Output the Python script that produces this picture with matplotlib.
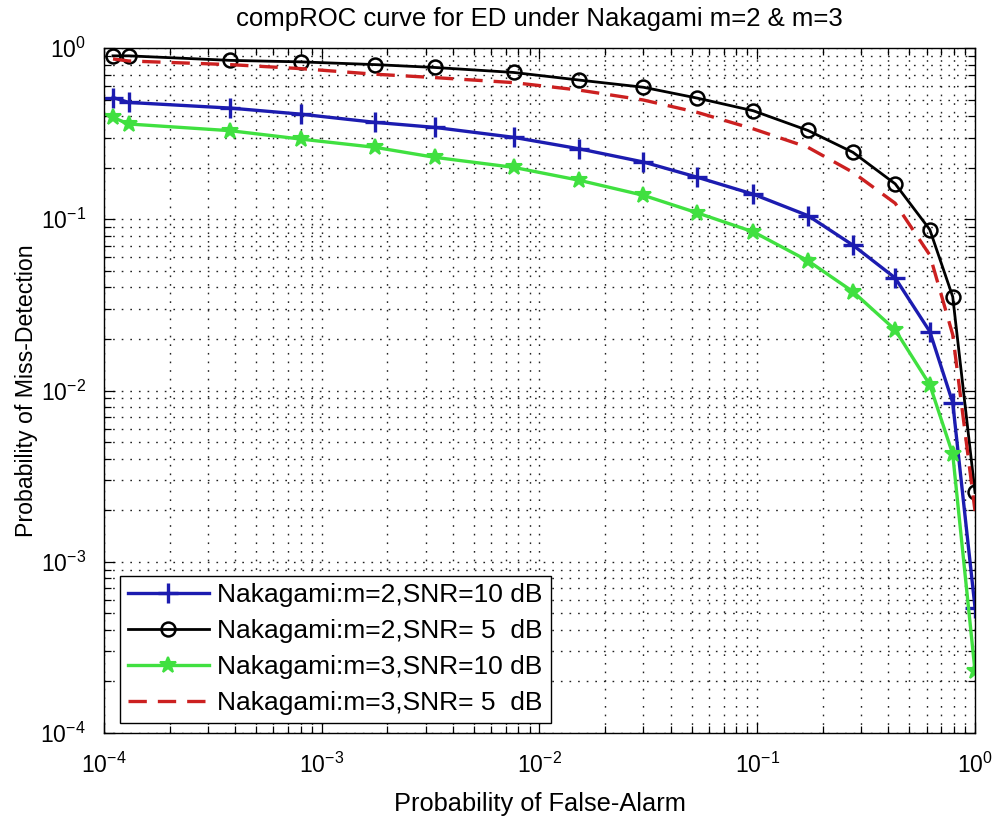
import matplotlib
matplotlib.use("Agg")
import matplotlib.pyplot as plt
from matplotlib.ticker import LogLocator, LogFormatterMathtext, NullFormatter

plt.rcParams['font.family'] = ['Liberation Sans', 'DejaVu Sans']
plt.rcParams['mathtext.fontset'] = 'custom'
plt.rcParams['mathtext.rm'] = 'Liberation Sans'
plt.rcParams['mathtext.default'] = 'regular'

# Probability of false alarm (shared by all curves)
pfa = [1.10e-4, 1.30e-4, 3.8e-4, 8.0e-4, 1.76e-3, 3.3e-3, 7.6e-3, 0.0152,
       0.030, 0.053, 0.096, 0.171, 0.275, 0.43, 0.62, 0.79, 1.0]

# Probability of miss detection for each case
pm_m2_10 = [0.514, 0.481, 0.446, 0.411, 0.368, 0.344, 0.301, 0.258, 0.216,
            0.176, 0.140, 0.105, 0.0706, 0.0454, 0.0221, 0.0085, 5.4e-4]
pm_m2_5 = [0.90, 0.90, 0.847, 0.83, 0.80, 0.77, 0.72, 0.65, 0.59, 0.51,
           0.43, 0.33, 0.246, 0.161, 0.087, 0.0353, 0.00254]
pm_m3_10 = [0.393, 0.36, 0.329, 0.294, 0.263, 0.23, 0.201, 0.169, 0.138,
            0.109, 0.0844, 0.0572, 0.0378, 0.0226, 0.0108, 0.00425, 2.3e-4]
pm_m3_5 = [0.863, 0.84, 0.80, 0.758, 0.703, 0.672, 0.628, 0.568, 0.497,
           0.421, 0.337, 0.263, 0.188, 0.124, 0.0618, 0.0212, 0.00198]

labels = ['Nakagami:m=2,SNR=10 dB', 'Nakagami:m=2,SNR= 5  dB',
          'Nakagami:m=3,SNR=10 dB', 'Nakagami:m=3,SNR= 5  dB']

fig = plt.figure(figsize=(9.94, 8.18), dpi=100)
ax = fig.add_axes([0.1046, 0.1039, 0.8763, 0.8374])

ax.loglog(pfa, pm_m2_10, color='#1c1cb0', lw=2.4, marker='+', ms=14, mew=2.4,
          label=labels[0])
ax.loglog(pfa, pm_m2_5, color='black', lw=2.0, marker='o', ms=10, mew=1.8,
          mfc='none', label=labels[1])
ax.loglog(pfa, pm_m3_10, color='#40e040', lw=2.4, marker='*', ms=12, mew=1.5,
          label=labels[2])
ax.loglog(pfa, pm_m3_5, color='#cc2020', lw=2.4, ls=(0, (5.5, 3.3)),
          label=labels[3])

ax.set_xlim(1e-4, 1)
ax.set_ylim(1e-4, 1)

for axis in (ax.xaxis, ax.yaxis):
    axis.set_major_locator(LogLocator(base=10, numticks=10))
    axis.set_minor_locator(LogLocator(base=10, subs=range(2, 10), numticks=20))
    axis.set_major_formatter(LogFormatterMathtext())
    axis.set_minor_formatter(NullFormatter())

ax.grid(True, which='both', ls=(0, (1.2, 5)), color='#222222', lw=1.0)
ax.tick_params(which='both', direction='in', top=True, right=True,
               labelsize=16.5, color='black', width=0.9)
ax.tick_params(which='major', length=8)
ax.tick_params(axis='x', which='major', pad=14)
ax.tick_params(axis='y', which='major', pad=13)
ax.tick_params(which='minor', length=5)
for s in ax.spines.values():
    s.set_linewidth(1.0)

ax.set_title('compROC curve for ED under Nakagami m=2 & m=3', fontsize=18.5, pad=16)
ax.set_xlabel('Probability of False-Alarm', fontsize=18.3, labelpad=10)
ax.set_ylabel('Probability of Miss-Detection', fontsize=16.7, labelpad=2)

leg = ax.legend(loc='lower left', bbox_to_anchor=(0.018, 0.0146), fontsize=19,
                handlelength=3.1, handletextpad=0.3, borderpad=0.3,
                labelspacing=0.45, fancybox=False, framealpha=1,
                edgecolor='black', borderaxespad=0)
leg.get_frame().set_linewidth(1.0)

fig.savefig('out.png', dpi=100)
